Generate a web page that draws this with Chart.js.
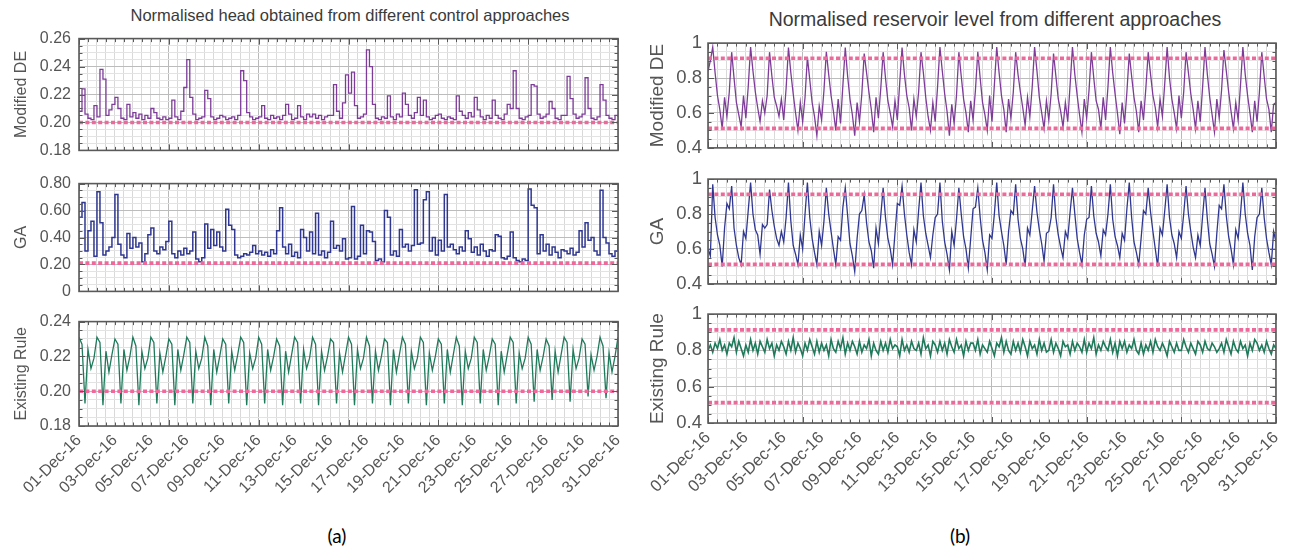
<!DOCTYPE html>
<html>
<head>
<meta charset="utf-8">
<script src="https://cdn.jsdelivr.net/npm/chart.js@4.4.1/dist/chart.umd.min.js"></script>
<style>
  body { margin: 0; background: #fff; width: 1295px; height: 557px; position: relative; overflow: hidden; font-family: "Liberation Sans", Arial, sans-serif; }
  canvas { position: absolute; }
  .title { position: absolute; color: #3a3a3a; white-space: nowrap; transform: translateX(-50%); line-height: 1.2; }
  .tag { position: absolute; font-family: Lato, "Open Sans", sans-serif; font-size: 19px; color: #000; transform: translateX(-50%); }
</style>
</head>
<body>
<div class="title" style="left:350px;top:6px;font-size:16.5px">Normalised head obtained from different control approaches</div>
<div class="title" style="left:995px;top:8px;font-size:19.5px">Normalised reservoir level from different approaches</div>
<div class="tag" style="left:337px;top:524px">(a)</div>
<div class="tag" style="left:960px;top:524px">(b)</div>

<canvas id="head-de"></canvas>
<canvas id="head-ga"></canvas>
<canvas id="head-er"></canvas>
<canvas id="level-de"></canvas>
<canvas id="level-ga"></canvas>
<canvas id="level-er"></canvas>

<script>
// sampling interval of the series (hours), x axis runs 0..720 h = 01-Dec .. 31-Dec
const HEAD_STEP_H = 4;
const LEVEL_STEP_H = 3;

const dateTicks = ['01-Dec-16', '03-Dec-16', '05-Dec-16', '07-Dec-16', '09-Dec-16', '11-Dec-16',
  '13-Dec-16', '15-Dec-16', '17-Dec-16', '19-Dec-16', '21-Dec-16', '23-Dec-16',
  '25-Dec-16', '27-Dec-16', '29-Dec-16', '31-Dec-16'];

// limit lines (pink dashed)
const headLimitDE = [0.20];
const headLimitGA = [0.21];
const headLimitER = [0.20];
const levelLimits = [0.913, 0.512];

// (a) normalised head, one row per day (6 samples)
const headModifiedDE = [
  0.208, 0.224, 0.206, 0.203, 0.202, 0.212,
  0.204, 0.238, 0.231, 0.205, 0.209, 0.213,
  0.218, 0.210, 0.203, 0.202, 0.213, 0.204,
  0.207, 0.203, 0.206, 0.202, 0.205, 0.203,
  0.210, 0.207, 0.203, 0.202, 0.204, 0.202,
  0.203, 0.216, 0.204, 0.202, 0.208, 0.225,
  0.245, 0.218, 0.206, 0.202, 0.203, 0.204,
  0.223, 0.217, 0.204, 0.202, 0.203, 0.205,
  0.204, 0.202, 0.203, 0.204, 0.202, 0.205,
  0.237, 0.230, 0.207, 0.204, 0.202, 0.203,
  0.204, 0.212, 0.203, 0.202, 0.205, 0.203,
  0.204, 0.202, 0.205, 0.213, 0.206, 0.202,
  0.203, 0.212, 0.204, 0.202, 0.206, 0.204,
  0.206, 0.203, 0.205, 0.202, 0.204, 0.205,
  0.205, 0.227, 0.208, 0.203, 0.214, 0.234,
  0.221, 0.236, 0.212, 0.203, 0.204, 0.206,
  0.252, 0.240, 0.213, 0.203, 0.202, 0.204,
  0.203, 0.219, 0.204, 0.202, 0.206, 0.204,
  0.221, 0.213, 0.205, 0.203, 0.207, 0.218,
  0.205, 0.216, 0.204, 0.202, 0.203, 0.205,
  0.206, 0.203, 0.202, 0.204, 0.203, 0.202,
  0.219, 0.208, 0.205, 0.203, 0.207, 0.204,
  0.218, 0.209, 0.204, 0.202, 0.205, 0.203,
  0.216, 0.205, 0.203, 0.202, 0.206, 0.213,
  0.210, 0.237, 0.210, 0.203, 0.202, 0.204,
  0.205, 0.227, 0.226, 0.206, 0.203, 0.204,
  0.206, 0.215, 0.210, 0.203, 0.202, 0.205,
  0.205, 0.233, 0.217, 0.206, 0.203, 0.204,
  0.206, 0.232, 0.210, 0.203, 0.202, 0.204,
  0.227, 0.216, 0.205, 0.203, 0.202, 0.205,
  0.204
];

const headGA = [
  0.55, 0.66, 0.30, 0.45, 0.52, 0.26,
  0.74, 0.51, 0.27, 0.30, 0.33, 0.40,
  0.72, 0.35, 0.27, 0.25, 0.43, 0.32,
  0.40, 0.33, 0.36, 0.22, 0.28, 0.42,
  0.47, 0.30, 0.28, 0.33, 0.31, 0.37,
  0.52, 0.28, 0.25, 0.30, 0.27, 0.32,
  0.28, 0.30, 0.44, 0.24, 0.22, 0.25,
  0.50, 0.32, 0.46, 0.34, 0.44, 0.33,
  0.30, 0.61, 0.49, 0.46, 0.27, 0.25,
  0.26, 0.28, 0.27, 0.29, 0.34, 0.28,
  0.30, 0.27, 0.29, 0.26, 0.31, 0.28,
  0.45, 0.62, 0.33, 0.28, 0.35, 0.26,
  0.29, 0.25, 0.46, 0.40, 0.30, 0.44,
  0.28, 0.58, 0.27, 0.30, 0.25, 0.29,
  0.52, 0.32, 0.34, 0.30, 0.39, 0.24,
  0.25, 0.63, 0.24, 0.26, 0.49, 0.28,
  0.45, 0.44, 0.37, 0.23, 0.24, 0.22,
  0.60, 0.55, 0.27, 0.30, 0.26, 0.46,
  0.33, 0.35, 0.30, 0.34, 0.755, 0.35,
  0.36, 0.68, 0.74, 0.30, 0.40, 0.27,
  0.38, 0.30, 0.72, 0.33, 0.35, 0.31,
  0.28, 0.33, 0.30, 0.45, 0.39, 0.29,
  0.33, 0.27, 0.35, 0.30, 0.26, 0.31,
  0.30, 0.42, 0.41, 0.25, 0.24, 0.26,
  0.44, 0.25, 0.23, 0.22, 0.24, 0.23,
  0.76, 0.64, 0.62, 0.28, 0.42, 0.30,
  0.35, 0.27, 0.33, 0.29, 0.25, 0.31,
  0.30, 0.28, 0.32, 0.27, 0.29, 0.45,
  0.33, 0.51, 0.38, 0.40, 0.30, 0.27,
  0.75, 0.40, 0.36, 0.28, 0.26, 0.30,
  0.41
];

const headExisting = [
  0.231, 0.227, 0.193, 0.224, 0.213, 0.219,
  0.231, 0.228, 0.192, 0.223, 0.211, 0.221,
  0.230, 0.227, 0.193, 0.224, 0.212, 0.220,
  0.231, 0.226, 0.192, 0.223, 0.213, 0.219,
  0.231, 0.228, 0.193, 0.222, 0.211, 0.220,
  0.230, 0.227, 0.192, 0.224, 0.212, 0.221,
  0.231, 0.228, 0.193, 0.223, 0.213, 0.219,
  0.231, 0.226, 0.192, 0.224, 0.211, 0.220,
  0.230, 0.227, 0.193, 0.223, 0.212, 0.221,
  0.231, 0.228, 0.192, 0.222, 0.213, 0.219,
  0.231, 0.227, 0.193, 0.224, 0.212, 0.220,
  0.230, 0.226, 0.192, 0.223, 0.211, 0.221,
  0.231, 0.228, 0.193, 0.224, 0.213, 0.219,
  0.231, 0.227, 0.192, 0.223, 0.212, 0.220,
  0.230, 0.228, 0.193, 0.222, 0.211, 0.221,
  0.231, 0.227, 0.192, 0.224, 0.213, 0.219,
  0.231, 0.226, 0.193, 0.223, 0.212, 0.220,
  0.230, 0.228, 0.192, 0.224, 0.211, 0.221,
  0.231, 0.227, 0.193, 0.223, 0.213, 0.219,
  0.231, 0.228, 0.192, 0.222, 0.212, 0.220,
  0.230, 0.227, 0.193, 0.224, 0.211, 0.221,
  0.231, 0.226, 0.192, 0.223, 0.213, 0.219,
  0.231, 0.228, 0.193, 0.224, 0.212, 0.220,
  0.230, 0.227, 0.192, 0.223, 0.211, 0.221,
  0.231, 0.228, 0.193, 0.222, 0.213, 0.219,
  0.231, 0.227, 0.194, 0.224, 0.212, 0.220,
  0.230, 0.226, 0.195, 0.223, 0.211, 0.221,
  0.231, 0.228, 0.194, 0.224, 0.213, 0.219,
  0.230, 0.227, 0.197, 0.221, 0.212, 0.220,
  0.231, 0.226, 0.196, 0.222, 0.211, 0.220,
  0.231
];

// (b) normalised reservoir level, one row per day (8 samples)
const levelModifiedDE = [
  0.84, 0.90, 0.977, 0.83, 0.70, 0.62, 0.51, 0.69,
  0.58, 0.72, 0.948, 0.80, 0.66, 0.59, 0.52, 0.70,
  0.57, 0.75, 0.977, 0.84, 0.72, 0.63, 0.55, 0.67,
  0.60, 0.70, 0.948, 0.81, 0.69, 0.64, 0.58, 0.68,
  0.56, 0.74, 0.974, 0.83, 0.71, 0.60, 0.50, 0.66,
  0.55, 0.69, 0.92, 0.79, 0.66, 0.58, 0.47, 0.64,
  0.56, 0.73, 0.95, 0.82, 0.70, 0.61, 0.50, 0.68,
  0.54, 0.76, 0.974, 0.81, 0.68, 0.59, 0.47, 0.66,
  0.55, 0.71, 0.94, 0.83, 0.72, 0.62, 0.49, 0.69,
  0.57, 0.74, 0.948, 0.80, 0.67, 0.60, 0.52, 0.67,
  0.56, 0.77, 0.974, 0.82, 0.70, 0.63, 0.50, 0.68,
  0.58, 0.72, 0.948, 0.83, 0.69, 0.58, 0.50, 0.66,
  0.55, 0.75, 0.977, 0.84, 0.71, 0.61, 0.47, 0.65,
  0.54, 0.70, 0.948, 0.81, 0.68, 0.60, 0.49, 0.67,
  0.56, 0.73, 0.95, 0.80, 0.66, 0.59, 0.50, 0.70,
  0.55, 0.76, 0.977, 0.83, 0.70, 0.62, 0.49, 0.68,
  0.57, 0.72, 0.948, 0.82, 0.72, 0.63, 0.53, 0.69,
  0.58, 0.75, 0.977, 0.84, 0.69, 0.60, 0.51, 0.67,
  0.56, 0.71, 0.94, 0.81, 0.68, 0.61, 0.52, 0.66,
  0.55, 0.76, 0.977, 0.82, 0.70, 0.59, 0.49, 0.68,
  0.57, 0.73, 0.948, 0.80, 0.67, 0.62, 0.51, 0.69,
  0.56, 0.75, 0.977, 0.83, 0.71, 0.60, 0.478, 0.66,
  0.54, 0.72, 0.94, 0.81, 0.69, 0.61, 0.49, 0.67,
  0.56, 0.74, 0.948, 0.82, 0.70, 0.63, 0.52, 0.68,
  0.58, 0.77, 0.977, 0.80, 0.68, 0.60, 0.51, 0.70,
  0.57, 0.72, 0.948, 0.83, 0.71, 0.62, 0.51, 0.67,
  0.55, 0.75, 0.977, 0.82, 0.69, 0.59, 0.49, 0.68,
  0.57, 0.73, 0.96, 0.84, 0.72, 0.61, 0.51, 0.66,
  0.56, 0.76, 0.977, 0.82, 0.70, 0.60, 0.49, 0.67,
  0.55, 0.72, 0.948, 0.81, 0.68, 0.62, 0.49, 0.65,
  0.66
];

const levelGA = [
  0.60, 0.56, 0.97, 0.78, 0.68, 0.62, 0.50, 0.72,
  0.86, 0.83, 0.96, 0.72, 0.62, 0.55, 0.51, 0.70,
  0.66, 0.82, 0.98, 0.80, 0.71, 0.68, 0.57, 0.74,
  0.72, 0.74, 0.94, 0.82, 0.73, 0.66, 0.62, 0.70,
  0.64, 0.78, 0.98, 0.76, 0.62, 0.57, 0.51, 0.68,
  0.60, 0.80, 0.98, 0.78, 0.66, 0.58, 0.51, 0.70,
  0.62, 0.76, 0.95, 0.80, 0.70, 0.60, 0.51, 0.67,
  0.65, 0.84, 0.95, 0.79, 0.63, 0.56, 0.47, 0.66,
  0.80, 0.82, 0.91, 0.75, 0.64, 0.59, 0.49, 0.72,
  0.63, 0.79, 0.95, 0.78, 0.66, 0.60, 0.51, 0.69,
  0.86, 0.85, 0.96, 0.80, 0.68, 0.58, 0.51, 0.71,
  0.64, 0.82, 0.98, 0.79, 0.69, 0.62, 0.55, 0.68,
  0.78, 0.80, 0.98, 0.76, 0.64, 0.57, 0.48, 0.70,
  0.62, 0.77, 0.95, 0.80, 0.67, 0.60, 0.49, 0.66,
  0.83, 0.84, 0.95, 0.78, 0.65, 0.58, 0.48, 0.68,
  0.66, 0.80, 0.98, 0.79, 0.70, 0.62, 0.51, 0.70,
  0.82, 0.80, 0.97, 0.77, 0.66, 0.60, 0.50, 0.72,
  0.68, 0.82, 0.96, 0.81, 0.71, 0.63, 0.53, 0.69,
  0.70, 0.78, 0.97, 0.78, 0.68, 0.61, 0.55, 0.70,
  0.66, 0.81, 0.95, 0.80, 0.66, 0.58, 0.51, 0.68,
  0.77, 0.78, 0.96, 0.79, 0.69, 0.64, 0.56, 0.71,
  0.68, 0.80, 0.97, 0.77, 0.67, 0.62, 0.55, 0.69,
  0.65, 0.83, 0.98, 0.78, 0.64, 0.58, 0.51, 0.66,
  0.82, 0.80, 0.95, 0.81, 0.70, 0.60, 0.50, 0.72,
  0.68, 0.82, 0.97, 0.78, 0.68, 0.63, 0.55, 0.70,
  0.66, 0.80, 0.96, 0.80, 0.70, 0.61, 0.55, 0.68,
  0.62, 0.79, 0.95, 0.77, 0.63, 0.57, 0.50, 0.69,
  0.85, 0.83, 0.97, 0.79, 0.67, 0.60, 0.51, 0.71,
  0.66, 0.80, 0.98, 0.80, 0.69, 0.62, 0.48, 0.67,
  0.78, 0.80, 0.95, 0.78, 0.66, 0.58, 0.51, 0.70,
  0.64
];

const levelExisting = [
  0.80, 0.83, 0.79, 0.84, 0.81, 0.86, 0.80, 0.83,
  0.78, 0.84, 0.82, 0.87, 0.79, 0.85, 0.81, 0.77,
  0.83, 0.79, 0.86, 0.80, 0.84, 0.78, 0.85, 0.82,
  0.79, 0.86, 0.81, 0.84, 0.77, 0.83, 0.80, 0.85,
  0.82, 0.78, 0.85, 0.80, 0.87, 0.79, 0.84, 0.81,
  0.77, 0.84, 0.80, 0.86, 0.82, 0.78, 0.85, 0.79,
  0.84, 0.80, 0.83, 0.77, 0.86, 0.81, 0.79, 0.85,
  0.81, 0.87, 0.78, 0.84, 0.80, 0.85, 0.82, 0.78,
  0.85, 0.79, 0.83, 0.81, 0.86, 0.77, 0.84, 0.80,
  0.78, 0.85, 0.80, 0.84, 0.79, 0.86, 0.81, 0.83,
  0.82, 0.77, 0.86, 0.80, 0.83, 0.79, 0.85, 0.81,
  0.80, 0.84, 0.78, 0.87, 0.81, 0.83, 0.77, 0.85,
  0.83, 0.79, 0.85, 0.80, 0.84, 0.78, 0.86, 0.82,
  0.79, 0.86, 0.81, 0.83, 0.77, 0.85, 0.80, 0.84,
  0.84, 0.80, 0.86, 0.78, 0.83, 0.81, 0.79, 0.85,
  0.81, 0.77, 0.84, 0.82, 0.87, 0.79, 0.85, 0.80,
  0.78, 0.85, 0.80, 0.84, 0.79, 0.86, 0.82, 0.77,
  0.85, 0.81, 0.83, 0.78, 0.86, 0.80, 0.84, 0.79,
  0.80, 0.86, 0.79, 0.84, 0.81, 0.77, 0.85, 0.82,
  0.83, 0.78, 0.85, 0.80, 0.84, 0.82, 0.79, 0.86,
  0.79, 0.84, 0.81, 0.87, 0.78, 0.83, 0.80, 0.85,
  0.82, 0.80, 0.86, 0.79, 0.84, 0.77, 0.85, 0.81,
  0.85, 0.79, 0.83, 0.81, 0.86, 0.80, 0.78, 0.84,
  0.78, 0.83, 0.80, 0.85, 0.79, 0.86, 0.82, 0.80,
  0.84, 0.81, 0.77, 0.85, 0.82, 0.79, 0.84, 0.80,
  0.80, 0.86, 0.82, 0.79, 0.84, 0.81, 0.78, 0.85,
  0.83, 0.79, 0.85, 0.81, 0.80, 0.84, 0.82, 0.79,
  0.81, 0.84, 0.79, 0.86, 0.82, 0.78, 0.85, 0.81,
  0.79, 0.85, 0.81, 0.83, 0.77, 0.84, 0.80, 0.86,
  0.84, 0.80, 0.83, 0.79, 0.85, 0.81, 0.78, 0.83,
  0.81
];

const FONT = '"Liberation Sans", Arial, sans-serif';
const COL_DE = '#7d3c98';
const COL_GA = '#2f3790';
const COL_ER = '#1f7a5c';
const COL_LIMIT = '#f0679a';

const isMajor = (v, m) => Math.abs(v / m - Math.round(v / m)) < 1e-6;
const toPoints = (vals, step) => vals.map((v, i) => ({ x: i * step, y: v }));

// box + inward tick marks, drawn from the scales
const frame = {
  id: 'frame',
  afterDraw(chart) {
    const { ctx, chartArea: a, scales: { x, y } } = chart;
    ctx.save();
    ctx.strokeStyle = '#5a5a5a';
    ctx.lineWidth = 1;
    ctx.beginPath();
    x.ticks.forEach(t => {
      const px = Math.round(x.getPixelForValue(t.value)) + 0.5;
      const len = t.value % 120 === 0 ? 6 : 3.5;
      ctx.moveTo(px, a.bottom); ctx.lineTo(px, a.bottom - len);
      ctx.moveTo(px, a.top); ctx.lineTo(px, a.top + len);
    });
    y.ticks.forEach(t => {
      const py = Math.round(y.getPixelForValue(t.value)) + 0.5;
      const len = chart.$major && isMajor(t.value, chart.$major) ? 6 : 3.5;
      ctx.moveTo(a.left, py); ctx.lineTo(a.left + len, py);
      ctx.moveTo(a.right, py); ctx.lineTo(a.right - len, py);
    });
    ctx.stroke();
    ctx.lineWidth = 1.6;
    ctx.strokeRect(a.left, a.top, a.right - a.left, a.bottom - a.top);
    ctx.restore();
  }
};

function makeChart(id, p) {
  const cv = document.getElementById(id);
  const padTop = 12;
  const xH = p.showDates ? 82 : 0;
  const padBottom = p.showDates ? 6 : 12;
  const W = p.canvasRight - p.canvasLeft;
  const H = (p.plotBottom - p.plotTop) + padTop + xH + padBottom;
  cv.width = W; cv.height = H;
  cv.style.left = p.canvasLeft + 'px';
  cv.style.top = (p.plotTop - padTop) + 'px';
  cv.style.width = W + 'px';
  cv.style.height = H + 'px';

  const datasets = p.limits.map(v => ({
    data: [{ x: 0, y: v }, { x: 720, y: v }],
    borderColor: COL_LIMIT, borderWidth: 3.6, borderDash: [4, 2.4], pointRadius: 0
  }));
  datasets.push({
    data: toPoints(p.values, p.step),
    borderColor: p.color, borderWidth: p.lineWidth || 1.2, pointRadius: 0, stepped: p.stepped || false
  });

  const chart = new Chart(cv, {
    type: 'line',
    data: { datasets },
    options: {
      responsive: false,
      animation: false,
      events: [],
      layout: { padding: { top: padTop, right: p.canvasRight - p.plotRight, bottom: padBottom, left: 0 } },
      plugins: { legend: { display: false }, tooltip: { enabled: false } },
      scales: {
        x: {
          type: 'linear', min: 0, max: 720,
          border: { display: false },
          grid: {
            drawTicks: false,
            color: c => (c.tick && c.tick.value % 120 === 0) ? '#b9b9b9' : '#d9d9d9'
          },
          ticks: {
            display: p.showDates, stepSize: 12, autoSkip: false,
            maxRotation: 45, minRotation: 45, padding: 5,
            color: '#555', font: { family: FONT, size: p.dateSize },
            callback: v => v % 48 === 0 ? dateTicks[v / 48] : ''
          },
          afterFit: s => { s.height = xH; }
        },
        y: {
          min: p.yMin, max: p.yMax,
          border: { display: false },
          grid: {
            drawTicks: false,
            color: c => (c.tick && isMajor(c.tick.value, p.yMajor)) ? '#bcbcbc' : '#e3e3e3'
          },
          ticks: {
            stepSize: p.yStep, autoSkip: false, padding: p.tickPad,
            color: '#555', font: { family: FONT, size: p.tickSize },
            callback: v => isMajor(v, p.yMajor) ? p.fmt(v) : ''
          },
          title: {
            display: true, text: p.label, color: '#555',
            font: { family: FONT, size: p.labelSize },
            padding: { top: p.labelPad, bottom: 0 }
          },
          afterFit: s => { s.width = p.plotLeft - p.canvasLeft; }
        }
      }
    },
    plugins: [frame]
  });
  chart.$major = p.yMajor;
  chart.draw();
}

const fmtHead = v => v.toFixed(2);
const fmtGA = v => v === 0 ? '0' : v.toFixed(2);
const fmtLevel = v => Math.abs(v - 1) < 1e-6 ? '1' : v.toFixed(1);

const colA = { canvasLeft: 0, canvasRight: 640, plotLeft: 79, plotRight: 618, tickSize: 16, labelSize: 16, labelPad: 12, tickPad: 8, dateSize: 16, step: HEAD_STEP_H };
const colB = { canvasLeft: 636, canvasRight: 1295, plotLeft: 708, plotRight: 1277, tickSize: 18.5, labelSize: 19, labelPad: 10, tickPad: 6, dateSize: 16.5, step: LEVEL_STEP_H,
  yMin: 0.4, yMax: 1, yStep: 0.05, yMajor: 0.2, fmt: fmtLevel, limits: levelLimits, lineWidth: 1.3 };

makeChart('head-de', Object.assign({}, colA, { plotTop: 33, plotBottom: 156, values: headModifiedDE, color: COL_DE, stepped: true, lineWidth: 1.3,
  yMin: 0.18, yMax: 0.26, yStep: 0.005, yMajor: 0.02, fmt: fmtHead, limits: headLimitDE, label: 'Modified DE' }));
makeChart('head-ga', Object.assign({}, colA, { plotTop: 178, plotBottom: 297, values: headGA, color: COL_GA, stepped: true, lineWidth: 1.5,
  yMin: 0, yMax: 0.8, yStep: 0.05, yMajor: 0.2, fmt: fmtGA, limits: headLimitGA, label: 'GA' }));
makeChart('head-er', Object.assign({}, colA, { plotTop: 316, plotBottom: 426, values: headExisting, color: COL_ER, lineWidth: 1.3,
  yMin: 0.18, yMax: 0.24, yStep: 0.005, yMajor: 0.02, fmt: fmtHead, limits: headLimitER, label: 'Existing Rule', showDates: true }));

makeChart('level-de', Object.assign({}, colB, { plotTop: 38, plotBottom: 153, values: levelModifiedDE, color: COL_DE, label: 'Modified DE' }));
makeChart('level-ga', Object.assign({}, colB, { plotTop: 174, plotBottom: 289, values: levelGA, color: COL_GA, label: 'GA' }));
makeChart('level-er', Object.assign({}, colB, { plotTop: 309, plotBottom: 423, values: levelExisting, color: COL_ER, label: 'Existing Rule', showDates: true, lineWidth: 1.6 }));
</script>
</body>
</html>
